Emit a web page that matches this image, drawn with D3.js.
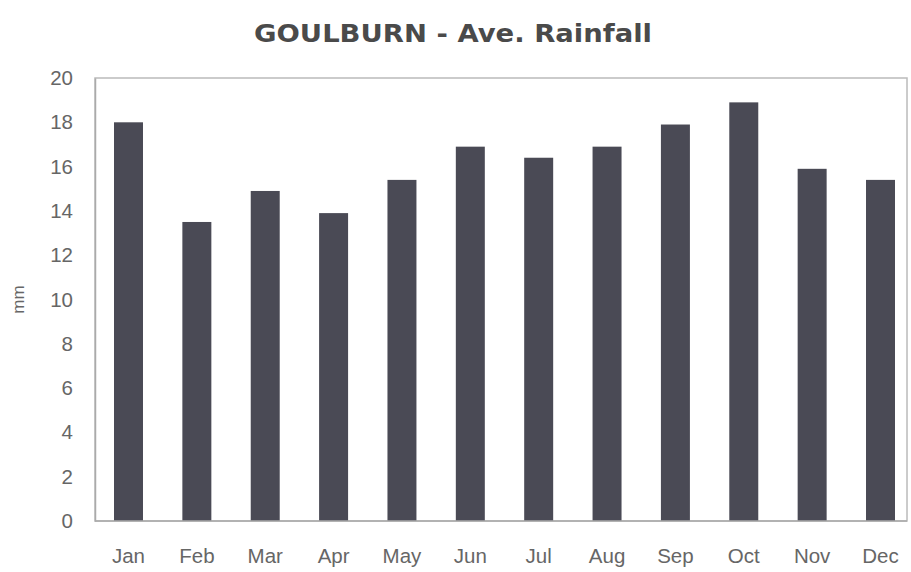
<!DOCTYPE html>
<html>
<head>
<meta charset="utf-8">
<script src="https://cdn.jsdelivr.net/npm/d3@7"></script>
<style>
  body { margin: 0; background: #fff; }
  text { font-family: "Liberation Sans", Arial, sans-serif; }
</style>
</head>
<body>
<div id="chart"></div>
<script>
const months = ['Jan', 'Feb', 'Mar', 'Apr', 'May', 'Jun', 'Jul', 'Aug', 'Sep', 'Oct', 'Nov', 'Dec'];
const rainfall = [18.0, 13.5, 14.9, 13.9, 15.4, 16.9, 16.4, 16.9, 17.9, 18.9, 15.9, 15.4];
const yTicks = [0, 2, 4, 6, 8, 10, 12, 14, 16, 18, 20];

const W = 911, H = 572;
const margin = { top: 78, right: 4, bottom: 51, left: 95 },
	width = W - margin.left - margin.right,
	height = H - margin.top - margin.bottom;

const svg = d3.select('#chart')
	.append('svg')
	.attr('width', W)
	.attr('height', H);

// title
const title = svg.append('text')
	.attr('x', 453)
	.attr('y', 42)
	.attr('text-anchor', 'middle')
	.attr('font-size', 25)
	.attr('font-weight', 'bold')
	.attr('fill', '#4a4a4a')
	.style('font-family', '"DejaVu Sans", sans-serif')
	.text('GOULBURN - Ave. Rainfall');
// squeeze/stretch to the reference width if needed
const tw = title.node().getComputedTextLength();
if (Math.abs(tw - 398) > 6) title.attr('textLength', 398).attr('lengthAdjust', 'spacingAndGlyphs');

const g = svg.append('g')
	.attr('transform', 'translate(' + margin.left + ',' + margin.top + ')');

// bars start ~19px in from the frame, step ~68px
const x = d3.scaleBand()
	.domain(months)
	.range([19, 800])
	.paddingInner(0.576)
	.paddingOuter(0);

const y = d3.scaleLinear()
	.domain([0, 20])
	.range([height, 0]);

// plot frame
g.append('rect')
	.attr('width', width)
	.attr('height', height)
	.attr('fill', 'none')
	.attr('stroke', '#bbb')
	.attr('stroke-width', 1.5);

// bars
g.selectAll('.bar')
	.data(rainfall)
	.join('rect')
	.attr('class', 'bar')
	.attr('x', (d, i) => x(months[i]))
	.attr('y', d => y(d))
	.attr('width', x.bandwidth())
	.attr('height', d => height - y(d))
	.attr('fill', '#4a4a55');

// y axis
const yAxis = g.append('g')
	.call(d3.axisLeft(y).tickValues(yTicks).tickSize(0).tickPadding(22));
yAxis.select('.domain').attr('stroke', '#aaa').attr('stroke-width', 1.5);
yAxis.selectAll('text').attr('font-size', 20.5).attr('fill', '#666')
	.style('font-family', '"Liberation Sans", Arial, sans-serif');

// x axis
const xAxis = g.append('g')
	.attr('transform', 'translate(0,' + height + ')')
	.call(d3.axisBottom(x).tickSize(0).tickPadding(27));
g.append('line')
	.attr('x1', 0).attr('x2', width)
	.attr('y1', height).attr('y2', height)
	.attr('stroke', '#aaa').attr('stroke-width', 1.5);
xAxis.select('.domain').remove();
xAxis.selectAll('text').attr('font-size', 20.5).attr('fill', '#666')
	.style('font-family', '"Liberation Sans", Arial, sans-serif');

// y label
svg.append('text')
	.attr('transform', 'translate(24,' + (margin.top + height / 2) + ') rotate(-90)')
	.attr('text-anchor', 'middle')
	.attr('font-size', 17)
	.attr('fill', '#666')
	.text('mm');
</script>
</body>
</html>
